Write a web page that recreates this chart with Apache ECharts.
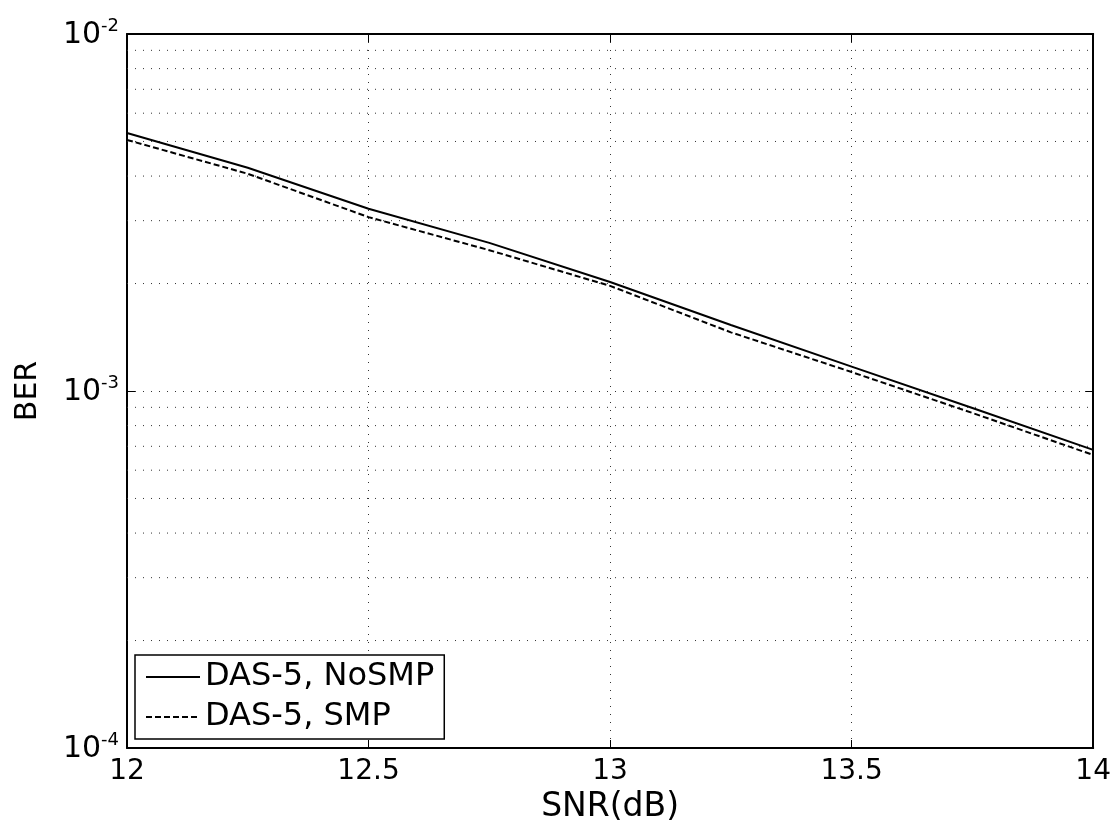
<!DOCTYPE html>
<html>
<head>
<meta charset="utf-8">
<script src="https://cdn.jsdelivr.net/npm/echarts@6/dist/echarts.min.js"></script>
<style>
html,body{margin:0;padding:0;background:#fff;}
#chart{width:1114px;height:829px;}
</style>
</head>
<body>
<div id="chart"></div>
<script>
// ---- data ----
const snr = [12, 12.25, 12.5, 12.75, 13, 13.25, 13.5, 13.75, 14];
const berNoSMP = [5.28e-3, 4.22e-3, 3.24e-3, 2.60e-3, 2.02e-3, 1.53e-3, 1.17e-3, 8.96e-4, 6.84e-4];
const berSMP   = [5.05e-3, 4.06e-3, 3.07e-3, 2.48e-3, 1.97e-3, 1.46e-3, 1.13e-3, 8.68e-4, 6.62e-4];
const seriesNames = ['DAS-5, NoSMP', 'DAS-5, SMP'];
const xTicks = [12, 12.5, 13, 13.5, 14];
const xRange = [12, 14];
const minorGridY = [2e-4,3e-4,4e-4,5e-4,6e-4,7e-4,8e-4,9e-4,2e-3,3e-3,4e-3,5e-3,6e-3,7e-3,8e-3,9e-3];

const FONT = '"DejaVu Sans", sans-serif';
const gridDot = {color: '#333', width: 1, type: [1, 7]};

const chart = echarts.init(document.getElementById('chart'));
const pair = (xs, ys) => xs.map((x, i) => [x, ys[i]]);

const gridSeries = minorGridY.map((v, i) => ({
  name: 'grid' + i, type: 'line', silent: true,
  data: [[xRange[0], v], [xRange[1], v]],
  showSymbol: false, symbol: 'none',
  lineStyle: gridDot, z: 1, tooltip: {show: false}
}));

chart.setOption({
  animation: false,
  backgroundColor: '#fff',
  grid: {left: 127, right: 17, top: 34, bottom: 81, containLabel: false},
  xAxis: [{
    type: 'value', min: 12, max: 14, interval: 0.5,
    name: 'SNR(dB)', nameLocation: 'middle', nameGap: 40,
    nameTextStyle: {fontFamily: FONT, fontSize: 33, color: '#000'},
    axisLine: {lineStyle: {color: '#000', width: 2}},
    axisTick: {inside: true, length: 8, lineStyle: {color: '#000'}},
    axisLabel: {fontFamily: FONT, fontSize: 28, color: '#000', margin: 10,
      formatter: v => xTicks.includes(v) ? String(v) : ''},
    splitLine: {show: true, lineStyle: gridDot}
  }, {
    type: 'value', min: 12, max: 14, interval: 0.5, position: 'top',
    axisLine: {lineStyle: {color: '#000', width: 2}},
    axisTick: {inside: true, length: 8, lineStyle: {color: '#000'}},
    axisLabel: {show: false}, splitLine: {show: false}
  }],
  yAxis: [{
    type: 'log', logBase: 10, min: 1e-4, max: 1e-2,
    name: 'BER', nameLocation: 'middle', nameGap: 84,
    nameTextStyle: {fontFamily: FONT, fontSize: 30, color: '#000'},
    axisLine: {show: true, lineStyle: {color: '#000', width: 2}},
    axisTick: {inside: true, length: 8, lineStyle: {color: '#000'}},
    axisLabel: {
      margin: 8,
      formatter: v => '{b|10}{s|' + Math.round(Math.log10(v)) + '}',
      rich: {
        b: {fontFamily: FONT, fontSize: 30, color: '#000', padding: [2, 0, 0, 0]},
        s: {fontFamily: FONT, fontSize: 18, color: '#000', padding: [0, 0, 16, 0]}
      }
    },
    splitLine: {show: true, lineStyle: gridDot}
  }, {
    type: 'log', logBase: 10, min: 1e-4, max: 1e-2, position: 'right',
    axisLine: {show: true, lineStyle: {color: '#000', width: 2}},
    axisTick: {inside: true, length: 8, lineStyle: {color: '#000'}},
    axisLabel: {show: false}, splitLine: {show: false}
  }],
  legend: {
    left: 135, top: 655, orient: 'vertical',
    backgroundColor: '#fff', borderColor: '#000', borderWidth: 1.5,
    padding: [6, 10, 6, 10], itemGap: 8,
    itemWidth: 54, itemHeight: 14,
    itemStyle: {color: 'rgba(0,0,0,0)', borderWidth: 0, opacity: 0},
    textStyle: {fontFamily: FONT, fontSize: 32, color: '#000'},
    data: seriesNames
  },
  series: [{
    name: seriesNames[0], type: 'line', data: pair(snr, berNoSMP),
    showSymbol: false, symbol: 'none',
    lineStyle: {color: '#000', width: 2, type: 'solid'},
    itemStyle: {color: '#000'},
    z: 3
  }, {
    name: seriesNames[1], type: 'line', data: pair(snr, berSMP),
    showSymbol: false, symbol: 'none',
    lineStyle: {color: '#000', width: 2, type: [6, 3]},
    itemStyle: {color: '#000'},
    z: 3
  }].concat(gridSeries)
});
</script>
</body>
</html>
